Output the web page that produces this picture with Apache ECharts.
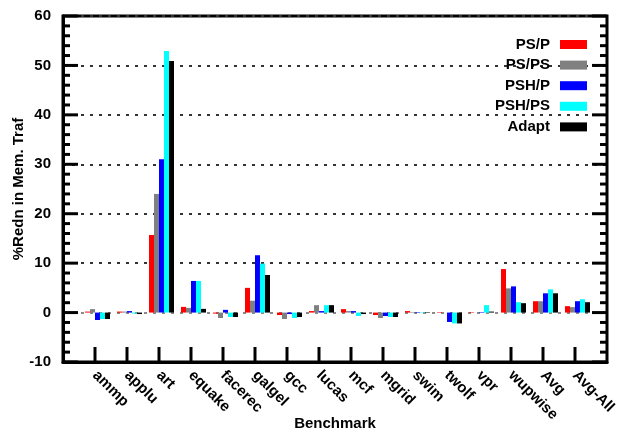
<!DOCTYPE html>
<html>
<head>
<meta charset="utf-8">
<script src="https://cdn.jsdelivr.net/npm/echarts@6/dist/echarts.min.js"></script>
<style>
  html, body { margin: 0; padding: 0; background: #fff; }
  #chart { width: 619px; height: 428px; }
</style>
</head>
<body>
<div id="chart"></div>
<script>
// Benchmarks on the x axis
const benchmarks = ['ammp', 'applu', 'art', 'equake', 'facerec', 'galgel', 'gcc', 'lucas',
  'mcf', 'mgrid', 'swim', 'twolf', 'vpr', 'wupwise', 'Avg', 'Avg-All'];

// % reduction in memory traffic per scheme
const psP    = [0.2, 0.2, 15.7, 1.15, -0.2, 5.0, -0.5, 0.3, 0.7, -0.5, 0.3, 0.1, 0.1, 8.8, 2.3, 1.3];
const psPS   = [0.7, 0.2, 24.0, 0.95, -1.1, 2.4, -1.3, 1.5, 0.3, -1.1, 0.1, 0.0, 0.0, 4.9, 2.3, 1.1];
const pshP   = [-1.5, 0.3, 31.0, 6.4, 0.55, 11.6, -0.3, 0.3, 0.3, -0.7, 0.1, -1.9, 0.1, 5.3, 3.9, 2.3];
const pshPS  = [-1.3, -0.2, 52.9, 6.4, -0.9, 9.9, -1.1, 1.5, -0.7, -0.9, -0.1, -2.2, 1.5, 2.1, 4.7, 2.7];
const adapt  = [-1.3, -0.3, 50.9, 0.75, -0.9, 7.6, -0.9, 1.5, -0.3, -0.9, 0.1, -2.2, 0.2, 1.9, 3.9, 2.1];

const seriesNames = ['PS/P', 'PS/PS', 'PSH/P', 'PSH/PS', 'Adapt'];
const seriesColors = ['#ff0000', '#808080', '#0000ff', '#00ffff', '#000000'];
const seriesValues = [psP, psPS, pshP, pshPS, adapt];

// y axis ticks: labelled every 10, minor marks every 2
const yMin = -10, yMax = 60, yStep = 10, yMinorStep = 2;

const FONT = '"Liberation Sans", Arial, Helvetica, sans-serif';

// one empty slot on each side of the category range
const xData = [''].concat(benchmarks, ['']);
const pad = arr => [null].concat(arr, [null]);

const chart = echarts.init(document.getElementById('chart'), null, { renderer: 'canvas' });

const barSeries = seriesNames.map((name, i) => ({
  name: name,
  type: 'bar',
  data: pad(seriesValues[i]),
  barWidth: 5,
  barGap: '0%',
  itemStyle: { color: seriesColors[i] },
  emphasis: { disabled: true },
  animation: false
}));

// leading empty slot in each cluster, so the bars sit just right of the tick
const spacer = {
  name: 'spacer',
  type: 'bar',
  data: xData.map(() => null),
  barWidth: 5,
  barGap: '0%',
  silent: true,
  animation: false
};

const gridColors = [];
for (let v = yMin; v <= yMax; v += yStep) gridColors.push(v === 0 ? '#8a8a8a' : '#333');

chart.setOption({
  animation: false,
  textStyle: { fontFamily: FONT },
  grid: {
    left: 63, right: 12, top: 16, bottom: 66,
    outerBoundsMode: 'none',
    containLabel: false,
    show: true, borderColor: '#000', borderWidth: 3
  },
  legend: {
    data: seriesNames,
    orient: 'vertical',
    right: 27,
    top: 32,
    align: 'right',
    itemWidth: 27,
    itemHeight: 9,
    itemGap: 5.6,
    icon: 'rect',
    selectedMode: false,
    textStyle: {
      fontFamily: FONT, fontWeight: 'bold', fontSize: 15, color: '#000',
      lineHeight: 15, padding: [0, 5, 0, 0]
    }
  },
  xAxis: {
    type: 'category',
    data: xData,
    boundaryGap: false,
    name: 'Benchmark',
    nameLocation: 'middle',
    nameGap: 54,
    nameMoveOverlap: false,
    nameTextStyle: { fontFamily: FONT, fontWeight: 'bold', fontSize: 15, color: '#000' },
    axisLine: { show: true, onZero: false, lineStyle: { color: '#000', width: 3 } },
    axisTick: { show: false },
    axisLabel: {
      interval: 0, rotate: -45, margin: 11,
      fontFamily: FONT, fontWeight: 'bold', fontSize: 15, color: '#000'
    },
    splitLine: { show: false }
  },
  yAxis: {
    type: 'value',
    min: yMin, max: yMax, interval: yStep,
    name: '%Redn in Mem. Traf',
    nameLocation: 'middle',
    nameGap: 37,
    nameMoveOverlap: false,
    nameTextStyle: { fontFamily: FONT, fontWeight: 'bold', fontSize: 15, color: '#000' },
    axisLine: { show: true, lineStyle: { color: '#000', width: 3 } },
    axisTick: { show: false },
    axisLabel: { margin: 12, fontFamily: FONT, fontWeight: 'bold', fontSize: 15, color: '#000' },
    splitLine: { show: true, lineStyle: { color: gridColors, width: 2, type: [3, 6] } }
  },
  series: [spacer].concat(barSeries)
});

// Inward frame tick marks, placed through the grid's own scales and drawn on
// a layer above the plot: left/right every 2 units (long at multiples of 10),
// bottom at each benchmark.
const toPx = (xi, v) => chart.convertToPixel({ gridIndex: 0 }, [xi, v]);
const leftX = toPx(0, 0)[0];
const rightX = toPx(xData.length - 1, 0)[0];
const bottomY = toPx(0, yMin)[1];
const tickStyle = { stroke: '#000', lineWidth: 3 };
const ticks = [];
for (let v = yMin; v <= yMax; v += yMinorStep) {
  const y = toPx(0, v)[1];
  const len = v % yStep === 0 ? 15 : 7;
  ticks.push({ type: 'line', shape: { x1: leftX, y1: y, x2: leftX + len, y2: y }, style: tickStyle, silent: true });
  ticks.push({ type: 'line', shape: { x1: rightX, y1: y, x2: rightX - len, y2: y }, style: tickStyle, silent: true });
}
benchmarks.forEach((b, i) => {
  const x = toPx(i + 1, yMin)[0];
  ticks.push({ type: 'line', shape: { x1: x, y1: bottomY, x2: x, y2: bottomY - 15 }, style: tickStyle, silent: true });
});
chart.setOption({ graphic: { elements: [{ type: 'group', zlevel: 1, z: 100, children: ticks }] } });
</script>
</body>
</html>
